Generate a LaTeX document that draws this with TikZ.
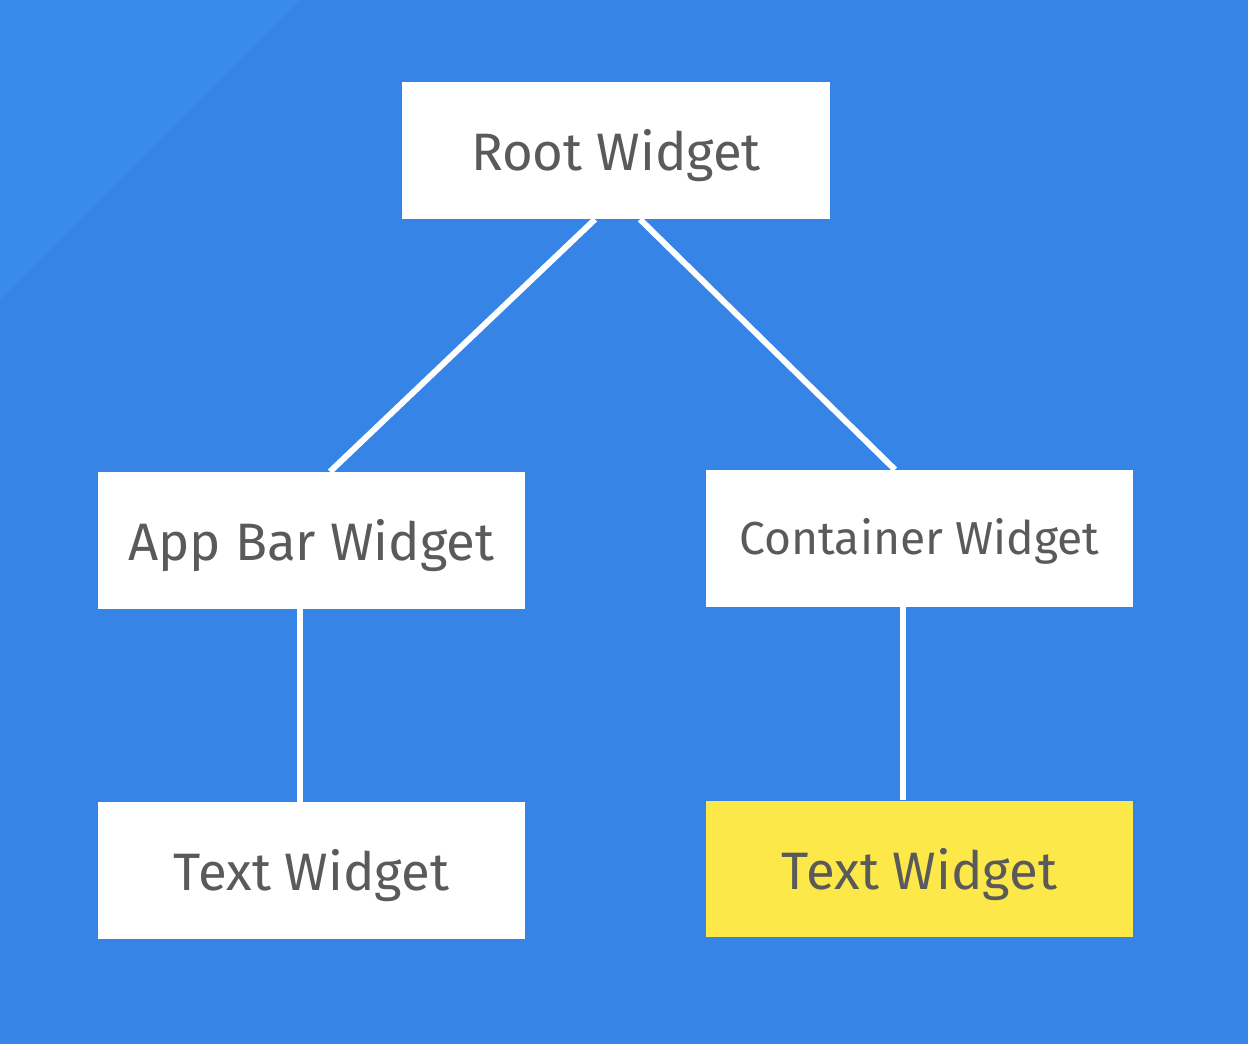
\documentclass[tikz,border=0pt]{standalone}
\usepackage{fontspec}
\setmainfont{Fira Sans}
\usetikzlibrary{calc}
\definecolor{bgblue}{HTML}{3684E6}
\definecolor{bgblueB}{HTML}{3A8AE9}
\definecolor{labelgray}{HTML}{5A5A5A}
\definecolor{hiyellow}{HTML}{FDE84A}

\tikzset{
    widget/.style={fill=white, minimum width=8.56cm, minimum height=2.74cm,
        inner sep=0pt, text=labelgray, font=\fontsize{30}{34}\selectfont,
        text height=29pt, text depth=6pt},
    branch/.style={draw=white, line width=3.4pt}
}

\begin{document}
\begin{tikzpicture}[x=0.02cm, y=-0.02cm]
    % background
    \fill[bgblue] (0,0) rectangle (1248,1044);
    \fill[bgblueB] (0,0) -- (300,0) -- (0,300) -- cycle;
    \useasboundingbox (0,0) rectangle (1248,1044);

    % widget tree
    \node[widget] (root) at (616,150.5) {Root Widget};
    \node[widget] (appbar) at (311.5,540.5) {App Bar Widget};
    \node[widget, font=\fontsize{26.3}{30}\selectfont, text height=23pt, text depth=5pt] (container) at (919.5,538.5) {Container Widget};
    \node[widget] (textA) at (311.5,870.5) {Text Widget};
    \node[widget, fill=hiyellow] (textB) at (919.5,869) {Text Widget};

    % connectors
    \draw[branch] ($(root.south)+(-21,0)$) -- ($(appbar.north)+(18.5,0)$);
    \draw[branch] ($(root.south)+(24,0)$) -- ($(container.north)+(-24.5,0)$);
    \draw[branch] ($(appbar.south)+(-11.5,0)$) -- ($(textA.north)+(-11.5,0)$);
    \draw[branch] ($(container.south)+(-16.5,0)$) -- ($(textB.north)+(-16.5,0)$);
\end{tikzpicture}
\end{document}
